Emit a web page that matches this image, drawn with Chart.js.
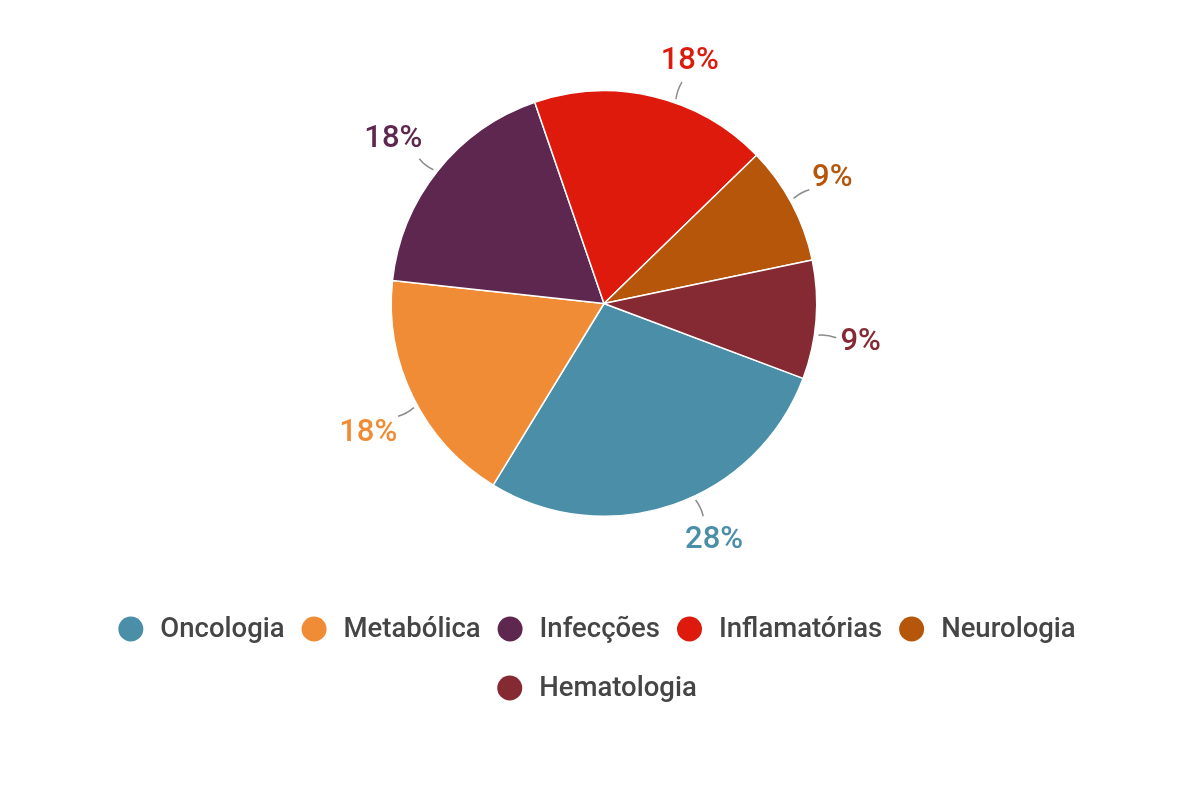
<!DOCTYPE html>
<html>
<head>
<meta charset="utf-8">
<title>Áreas terapêuticas</title>
<script src="https://cdn.jsdelivr.net/npm/chart.js@4"></script>
<style>
  html, body { margin: 0; padding: 0; background: #fff; }
  #wrap { width: 1200px; height: 800px; }
</style>
</head>
<body>
<div id="wrap"><canvas id="pieChart" width="1200" height="800"></canvas></div>
<script>
const areas = ['Oncologia', 'Metabólica', 'Infecções', 'Inflamatórias', 'Neurologia', 'Hematologia'];
const shares = [28, 18, 18, 18, 9, 9];
const sliceColors = ['#4a8ea8', '#f08c35', '#5d2750', '#dd1a0b', '#b5560a', '#852a33'];

// percent labels outside the slices, with a short grey leader
const sliceLabels = {
  id: 'sliceLabels',
  afterDatasetsDraw(chart, args, opts) {
    const ctx = chart.ctx;
    const ds = chart.data.datasets[0];
    const meta = chart.getDatasetMeta(0);
    ctx.save();
    ctx.font = opts.font;
    meta.data.forEach((arc, i) => {
      const p = arc.getProps(['x', 'y', 'startAngle', 'endAngle', 'outerRadius'], true);
      // nudge keeps labels where the original layout put them
      const nudge = (opts.nudge[i] || 0) * Math.PI / 180;
      const mid = (p.startAngle + p.endAngle) / 2 + nudge;
      const ux = Math.cos(mid), uy = Math.sin(mid);
      const text = ds.data[i] + '%';
      const w = ctx.measureText(text).width;
      const h = opts.textHeight;
      const base = p.outerRadius + opts.gap;
      const off = Math.abs(ux) * w / 2 + Math.abs(uy) * h / 2;
      const tx = p.x + ux * (base + off);
      const ty = p.y + uy * (base + off);

      const r0 = p.outerRadius + 4, r1 = p.outerRadius + 13, r2 = base - 3;
      ctx.beginPath();
      ctx.moveTo(p.x + ux * r0, p.y + uy * r0);
      ctx.quadraticCurveTo(p.x + ux * r1 + uy * 2, p.y + uy * r1 - ux * 2, p.x + ux * r2, p.y + uy * r2);
      ctx.strokeStyle = opts.leaderColor;
      ctx.lineWidth = 1.5;
      ctx.stroke();

      ctx.fillStyle = ds.backgroundColor[i];
      ctx.textAlign = 'center';
      ctx.textBaseline = 'middle';
      ctx.fillText(text, tx, ty + 1);
    });
    ctx.restore();
  }
};

// legend with round markers, wrapped and centred in rows
const roundLegend = {
  id: 'roundLegend',
  afterDraw(chart, args, opts) {
    const ctx = chart.ctx;
    const ds = chart.data.datasets[0];
    ctx.save();
    ctx.font = opts.font;
    const items = chart.data.labels.map((lab, i) => ({
      text: lab,
      color: ds.backgroundColor[i],
      width: opts.markerSize + opts.textGap + ctx.measureText(lab).width
    }));
    const rows = [[]];
    let rowW = 0;
    items.forEach(it => {
      const need = rowW === 0 ? it.width : rowW + opts.itemGap + it.width;
      if (rowW > 0 && need > opts.maxWidth) {
        rows.push([it]);
        rowW = it.width;
      } else {
        rows[rows.length - 1].push(it);
        rowW = need;
      }
    });
    rows.forEach((row, r) => {
      const total = row.reduce((s, it) => s + it.width, 0) + opts.itemGap * (row.length - 1);
      let x = opts.centerX - total / 2;
      const y = opts.top + r * opts.rowHeight;
      row.forEach(it => {
        ctx.beginPath();
        ctx.arc(x + opts.markerSize / 2, y, opts.markerSize / 2, 0, Math.PI * 2);
        ctx.fillStyle = it.color;
        ctx.fill();
        ctx.fillStyle = opts.color;
        ctx.textAlign = 'left';
        ctx.textBaseline = 'middle';
        ctx.fillText(it.text, x + opts.markerSize + opts.textGap, y + 1);
        x += it.width + opts.itemGap;
      });
    });
    ctx.restore();
  }
};

document.addEventListener('DOMContentLoaded', function () {
  const ctx = document.getElementById('pieChart').getContext('2d');
  new Chart(ctx, {
    type: 'pie',
    data: {
      labels: areas,
      datasets: [{
        data: shares,
        backgroundColor: sliceColors,
        borderColor: '#ffffff',
        borderWidth: 1.5
      }]
    },
    options: {
      responsive: false,
      animation: false,
      rotation: 110.6,
      layout: { padding: { top: 90, bottom: 283, left: 8, right: 0 } },
      plugins: {
        legend: { display: false },
        tooltip: { enabled: false },
        sliceLabels: {
          font: '500 31px Roboto',
          textHeight: 23,
          gap: 25,
          nudge: [-6, -2.5, -0.5, 6, -1, 4],
          leaderColor: '#8c8c8c'
        },
        roundLegend: {
          font: '500 27.5px Roboto',
          color: '#454545',
          markerSize: 25,
          textGap: 17,
          itemGap: 17,
          maxWidth: 1000,
          centerX: 597,
          top: 629,
          rowHeight: 59
        }
      }
    },
    plugins: [sliceLabels, roundLegend]
  });
});
</script>
</body>
</html>
